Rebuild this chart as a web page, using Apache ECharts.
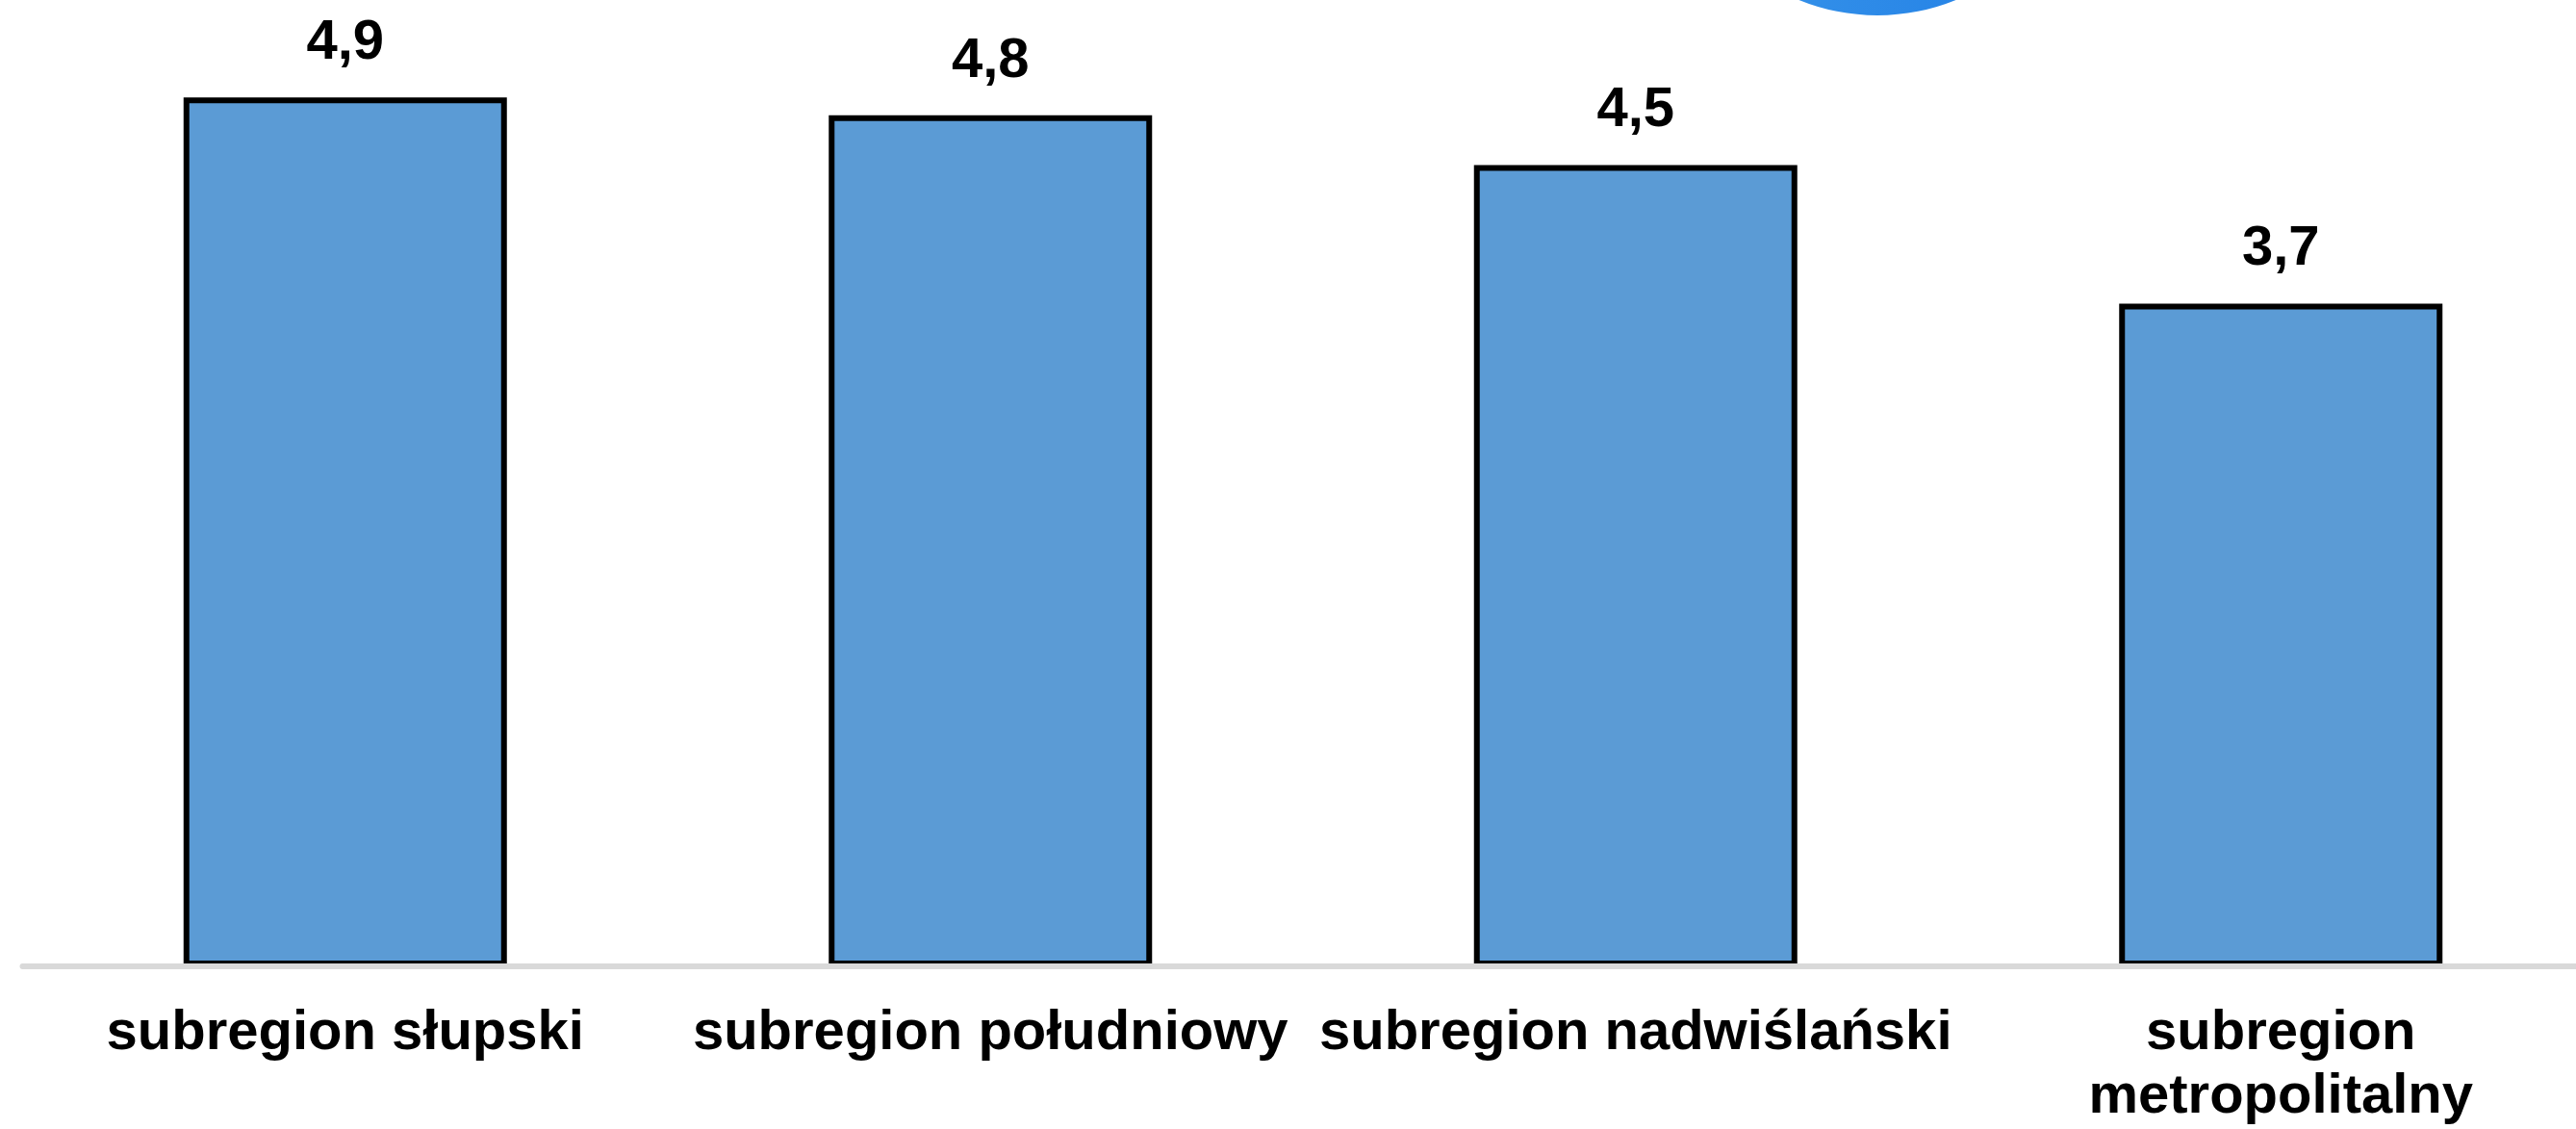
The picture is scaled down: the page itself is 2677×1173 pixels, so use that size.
<!DOCTYPE html>
<html>
<head>
<meta charset="utf-8">
<script src="https://cdn.jsdelivr.net/npm/echarts@6/dist/echarts.min.js"></script>
<style>
html,body{margin:0;padding:0;background:#fff;overflow:hidden;}
#chart{width:2720px;height:1173px;}
</style>
</head>
<body>
<div id="chart"></div>
<script>
const categories = ['subregion słupski', 'subregion południowy', 'subregion nadwiślański', 'subregion\nmetropolitalny'];
const values = [4.89, 4.79, 4.51, 3.73];

const chart = echarts.init(document.getElementById('chart'), null, {renderer: 'canvas'});
const FONT = '"Liberation Sans", Arial, sans-serif';
chart.setOption({
  animation: false,
  backgroundColor: '#ffffff',
  grid: {left: 23.5, width: 2682, top: 81, bottom: 167, containLabel: false},
  xAxis: {
    type: 'category',
    data: categories,
    z: 10,
    axisLine: {show: true, lineStyle: {color: '#d9d9d9', width: 6}},
    axisTick: {show: false},
    axisLabel: {
      interval: 0,
      margin: 37,
      color: '#000000',
      fontFamily: FONT,
      fontWeight: 'bold',
      fontSize: 58,
      lineHeight: 66
    }
  },
  yAxis: {
    type: 'value',
    min: 0,
    max: 5,
    show: false,
    splitLine: {show: false}
  },
  graphic: [{
    type: 'circle',
    shape: {cx: 1951, cy: -200, r: 216},
    silent: true,
    z: 100,
    style: {
      fill: new echarts.graphic.LinearGradient(0, 0, 1, 0, [
        {offset: 0, color: '#3b97ea'},
        {offset: 1, color: '#1f7de5'}
      ])
    }
  }],
  series: [{
    type: 'bar',
    data: values,
    barWidth: 336,
    itemStyle: {color: '#5b9bd5', borderColor: '#000000', borderWidth: 6},
    label: {
      show: true,
      position: 'top',
      distance: 27,
      color: '#000000',
      fontFamily: FONT,
      fontWeight: 'bold',
      fontSize: 58,
      formatter: p => p.value.toFixed(1).replace('.', ',')
    }
  }]
});
</script>
</body>
</html>
